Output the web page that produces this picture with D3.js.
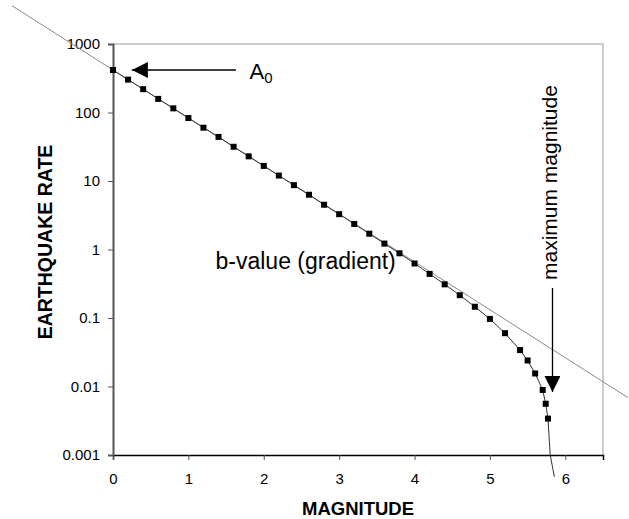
<!DOCTYPE html>
<html>
<head>
<meta charset="utf-8">
<script src="https://cdn.jsdelivr.net/npm/d3@7"></script>
<style>
  body { margin: 0; background: #fff; }
  svg { display: block; font-family: "Liberation Sans", Arial, sans-serif; }
</style>
</head>
<body>
<div id="chart"></div>
<script>
// Magnitude / rate points (markers)
const magnitudes = [0, 0.2, 0.4, 0.6, 0.8, 1.0, 1.2, 1.4, 1.6, 1.8, 2.0, 2.2, 2.4, 2.6, 2.8,
    3.0, 3.2, 3.4, 3.6, 3.8, 4.0, 4.2, 4.4, 4.6, 4.8, 5.0, 5.2, 5.4, 5.5, 5.6, 5.7, 5.74, 5.77];
const rates = [417, 302, 219, 158, 115, 83, 60, 44, 31.6, 22.9, 16.6, 12.0, 8.7, 6.3, 4.5,
    3.28, 2.36, 1.70, 1.22, 0.88, 0.625, 0.44, 0.31, 0.215, 0.146, 0.097, 0.060, 0.034, 0.024, 0.0155, 0.0089, 0.0056, 0.0034];

// curve continues past the last marker, below the axis
const tailMagnitudes = [5.80, 5.855];
const tailRates = [0.001, 0.00048];

// straight Gutenberg-Richter line (ends)
const gradientMagnitudes = [-1.34, 6.83];
const gradientRates = [3620, 0.0069];

const xTicks = [0, 1, 2, 3, 4, 5, 6];
const yTicks = [0.001, 0.01, 0.1, 1, 10, 100, 1000];
const yTickLabels = ["0.001", "0.01", "0.1", "1", "10", "100", "1000"];

const margin = { top: 44, right: 26, bottom: 64, left: 113 };
const width = 629 - margin.left - margin.right;
const height = 519 - margin.top - margin.bottom;

var svg = d3.select("#chart").append("svg")
    .attr("width", 629)
    .attr("height", 519)
    .append("g")
    .attr("transform", "translate(" + margin.left + "," + margin.top + ")");

const x = d3.scaleLinear().domain([0, 6.5]).range([0, width]);
const y = d3.scaleLog().domain([0.001, 1000]).range([height, 0]);

// plot area frame (top / right)
svg.append("path")
    .attr("d", "M0,0H" + width + "V" + height)
    .attr("fill", "none")
    .attr("stroke", "#bdbdbd")
    .attr("stroke-width", 1.5);

// x axis
const xAxis = svg.append("g")
    .attr("transform", "translate(0," + height + ")")
    .call(d3.axisBottom(x).tickValues(xTicks).tickSize(5).tickPadding(13).tickFormat(d3.format("d")));
xAxis.select(".domain").attr("stroke", "#000").attr("stroke-width", 1.5);
xAxis.selectAll(".tick line").attr("stroke", "#555");
xAxis.selectAll("text").style("font-size", "15px").attr("fill", "#000");

// y axis
const yAxis = svg.append("g")
    .call(d3.axisLeft(y).tickValues(yTicks).tickSize(5).tickPadding(8)
        .tickFormat((d, i) => yTickLabels[i]));
yAxis.select(".domain").attr("stroke", "#555").attr("stroke-width", 2);
yAxis.selectAll(".tick line").attr("stroke", "#555");
yAxis.selectAll("text").style("font-size", "15px").attr("fill", "#000");

// straight b-value line
svg.append("path")
    .datum(gradientMagnitudes.map((m, i) => [m, gradientRates[i]]))
    .attr("fill", "none")
    .attr("stroke", "#8a8a8a")
    .attr("stroke-width", 1)
    .attr("d", d3.line().x(d => x(d[0])).y(d => y(d[1])));

// truncated curve
const curvePts = magnitudes.map((m, i) => [m, rates[i]])
    .concat(tailMagnitudes.map((m, i) => [m, tailRates[i]]));
svg.append("path")
    .datum(curvePts)
    .attr("fill", "none")
    .attr("stroke", "#333")
    .attr("stroke-width", 1)
    .attr("d", d3.line().x(d => x(d[0])).y(d => y(d[1])));

// markers
const ms = 6;
svg.selectAll(".pt")
    .data(magnitudes)
    .enter().append("rect")
    .attr("class", "pt")
    .attr("x", (d) => x(d) - ms / 2)
    .attr("y", (d, i) => y(rates[i]) - ms / 2)
    .attr("width", ms)
    .attr("height", ms)
    .attr("fill", "#000");

// arrow heads
svg.append("defs").append("marker")
    .attr("id", "head")
    .attr("viewBox", "0 0 16 16")
    .attr("refX", 16).attr("refY", 8)
    .attr("markerWidth", 16).attr("markerHeight", 16)
    .attr("markerUnits", "userSpaceOnUse")
    .attr("orient", "auto")
    .append("path").attr("d", "M0,0L16,8L0,16Z").attr("fill", "#000");

// A0 annotation
const a0Arrow = { from: [1.63, 417], to: [0.25, 417] };
svg.append("line")
    .attr("x1", x(a0Arrow.from[0])).attr("y1", y(a0Arrow.from[1]))
    .attr("x2", x(a0Arrow.to[0])).attr("y2", y(a0Arrow.to[1]))
    .attr("stroke", "#000").attr("stroke-width", 1.3)
    .attr("marker-end", "url(#head)");
const a0 = svg.append("text")
    .attr("x", x(1.81))
    .attr("y", y(417) + 9)
    .style("font-size", "22px");
a0.append("tspan").text("A");
a0.append("tspan").attr("dy", 4).style("font-size", "15px").text("0");

// maximum magnitude annotation
const maxArrow = { from: [5.83, 0.274], to: [5.83, 0.0083] };
svg.append("line")
    .attr("x1", x(maxArrow.from[0])).attr("y1", y(maxArrow.from[1]))
    .attr("x2", x(maxArrow.to[0])).attr("y2", y(maxArrow.to[1]))
    .attr("stroke", "#000").attr("stroke-width", 1.3)
    .attr("marker-end", "url(#head)");
svg.append("text")
    .attr("transform", "translate(" + (x(5.83) + 5) + "," + (y(0.274) - 8) + ") rotate(-90)")
    .style("font-size", "21px")
    .text("maximum magnitude");

// b-value label
svg.append("text")
    .attr("x", x(1.36))
    .attr("y", y(0.52))
    .style("font-size", "23px")
    .text("b-value (gradient)");

// axis titles
svg.append("text")
    .attr("x", width / 2)
    .attr("y", height + 60)
    .attr("text-anchor", "middle")
    .style("font-size", "18.5px")
    .style("font-weight", "bold")
    .text("MAGNITUDE");

svg.append("text")
    .attr("transform", "rotate(-90)")
    .attr("x", -(242 - margin.top))
    .attr("y", 51.5 - margin.left)
    .attr("text-anchor", "middle")
    .style("font-size", "19.5px")
    .style("font-weight", "bold")
    .text("EARTHQUAKE RATE");
</script>
</body>
</html>
